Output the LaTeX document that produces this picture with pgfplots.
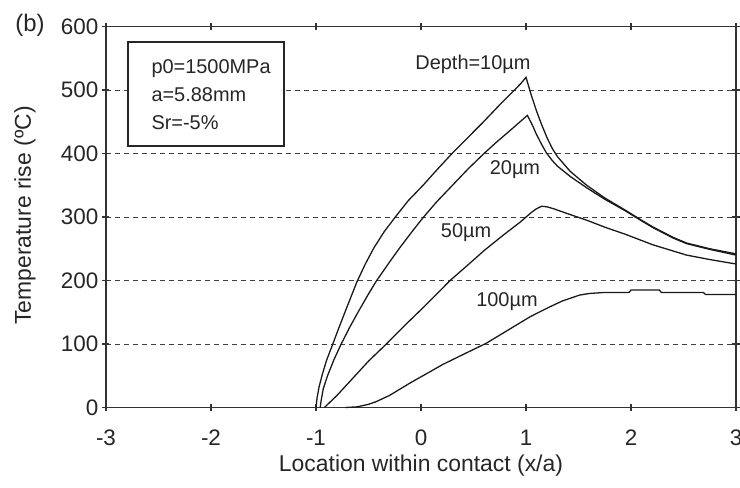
\documentclass[border=0pt]{standalone}
\usepackage{pgfplots}
\pgfplotsset{compat=1.18}
\usepackage{fontspec}
\setmainfont{Liberation Sans}
\begin{document}
\begin{tikzpicture}
\begin{axis}[
  at={(0,0)}, anchor=south west,
  scale only axis, width=630bp, height=381bp,
  xmin=-3, xmax=3, ymin=0, ymax=600,
  xtick={-3,-2,-1,0,1,2,3}, xticklabels={-3,-2,-1,0,1,2,3},
  ytick={0,100,200,300,400,500,600}, yticklabels={0,100,200,300,400,500,600},
  tick align=center, major tick length=7bp,
  ymajorgrids,
  grid style={black!75, line width=0.9pt, dash pattern=on 5bp off 4bp},
  axis line style={line width=1.2pt, black!80},
  every tick/.style={line width=1.1pt, black!80},
  ticklabel style={font=\fontsize{22.5}{22.5}\selectfont, text=black!85},
  xticklabel style={anchor=center, inner sep=0pt, yshift=-27bp},
  yticklabel style={anchor=east, inner sep=0pt, xshift=-4bp},
  xlabel={Location within contact (x/a)},
  label style={font=\fontsize{23}{23}\selectfont, text=black!85},
  xlabel style={at={(rel axis cs:0.5,0)}, anchor=center, yshift=-58.5bp},
  clip=false,
]
% Depth = 10 um
\addplot[black!90, line width=1.3pt] coordinates {
(-1.0,0) (-0.99,15) (-0.97,33) (-0.94,52) (-0.90,74) (-0.84,100) (-0.79,122) (-0.72,152) (-0.66,177) (-0.61,198) (-0.53,226) (-0.45,251) (-0.35,277) (-0.24,301) (-0.12,326) (0.02,350) (0.15,374) (0.29,399) (0.44,424) (0.59,449) (0.74,475) (0.89,500) (0.95,510) (1.0,520)
(1.05,492) (1.10,467) (1.15,445) (1.2,425) (1.25,408) (1.3,395) (1.42,372) (1.578,350) (1.75,330) (1.943,311) (2.1,295) (2.212,284) (2.4,268) (2.53,259) (2.75,250) (3.0,242)};
% 20 um
\addplot[black!90, line width=1.3pt] coordinates {
(-0.96,0) (-0.95,12) (-0.93,30) (-0.89,50) (-0.83,75) (-0.76,100) (-0.68,126) (-0.6,150) (-0.51,176) (-0.43,198) (-0.3,229) (-0.2,252) (-0.09,276) (0.02,299) (0.15,324) (0.3,350) (0.45,376) (0.6,400) (0.72,418) (0.84,435) (0.93,448) (1.013,460)
(1.06,445) (1.10,430) (1.15,414) (1.194,401) (1.25,389) (1.3,380) (1.42,364) (1.578,346) (1.75,328) (1.943,310) (2.1,294) (2.212,283) (2.4,267) (2.53,258) (2.75,249) (3.0,240)};
% 50 um
\addplot[black!90, line width=1.3pt] coordinates {
(-0.92,0) (-0.8,19) (-0.65,46) (-0.5,73) (-0.33,100) (-0.15,130) (0,154) (0.14,177) (0.277,200) (0.45,225) (0.6,247) (0.78,271) (0.945,292) (1.05,307) (1.1,313) (1.15,317) (1.2,316) (1.263,313) (1.4,305) (1.578,295) (1.75,284) (1.943,273) (2.212,256) (2.53,240) (2.75,233) (3.0,226)};
% 100 um
\addplot[black!90, line width=1.3pt] coordinates {
(-0.72,0) (-0.61,1) (-0.5,5) (-0.43,9) (-0.3,19) (-0.11,38) (0.05,53) (0.21,68) (0.42,85) (0.62,101) (0.84,123) (1.04,143) (1.22,158) (1.35,168) (1.51,177) (1.6,179.5) (1.73,181) (1.98,181) (2.0,185) (2.27,185) (2.29,181) (2.69,181) (2.71,178) (3.0,178)};

\draw[line width=1.2pt, black!85, fill=white] (axis cs:-2.79,411.8) rectangle (axis cs:-1.305,575.6);
\node[anchor=mid west, font=\fontsize{20}{20}\selectfont, text=black!85] at (axis cs:-2.6,530) {p0=1500MPa};
\node[anchor=mid west, font=\fontsize{20}{20}\selectfont, text=black!85] at (axis cs:-2.6,486) {a=5.88mm};
\node[anchor=mid west, font=\fontsize{20}{20}\selectfont, text=black!85] at (axis cs:-2.6,442) {Sr=-5\%};

\node[font=\fontsize{20}{20}\selectfont, text=black!85] at (axis cs:0.495,540) {Depth=10µm};
\node[font=\fontsize{20}{20}\selectfont, text=black!85] at (axis cs:0.895,375) {20µm};
\node[font=\fontsize{20}{20}\selectfont, text=black!85] at (axis cs:0.429,276) {50µm};
\node[font=\fontsize{20}{20}\selectfont, text=black!85] at (axis cs:0.819,167) {100µm};
\end{axis}
\node[rotate=90, font=\fontsize{23}{23}\selectfont, text=black!85] at (-81bp,192bp) {Temperature rise (ºC)};
\node[font=\fontsize{24}{24}\selectfont, text=black!85] at (-76bp,382.5bp) {(b)};
\pgfresetboundingbox
\path[use as bounding box] (-106bp,-80.5bp) rectangle (634bp,407.5bp);
\end{tikzpicture}
\end{document}
